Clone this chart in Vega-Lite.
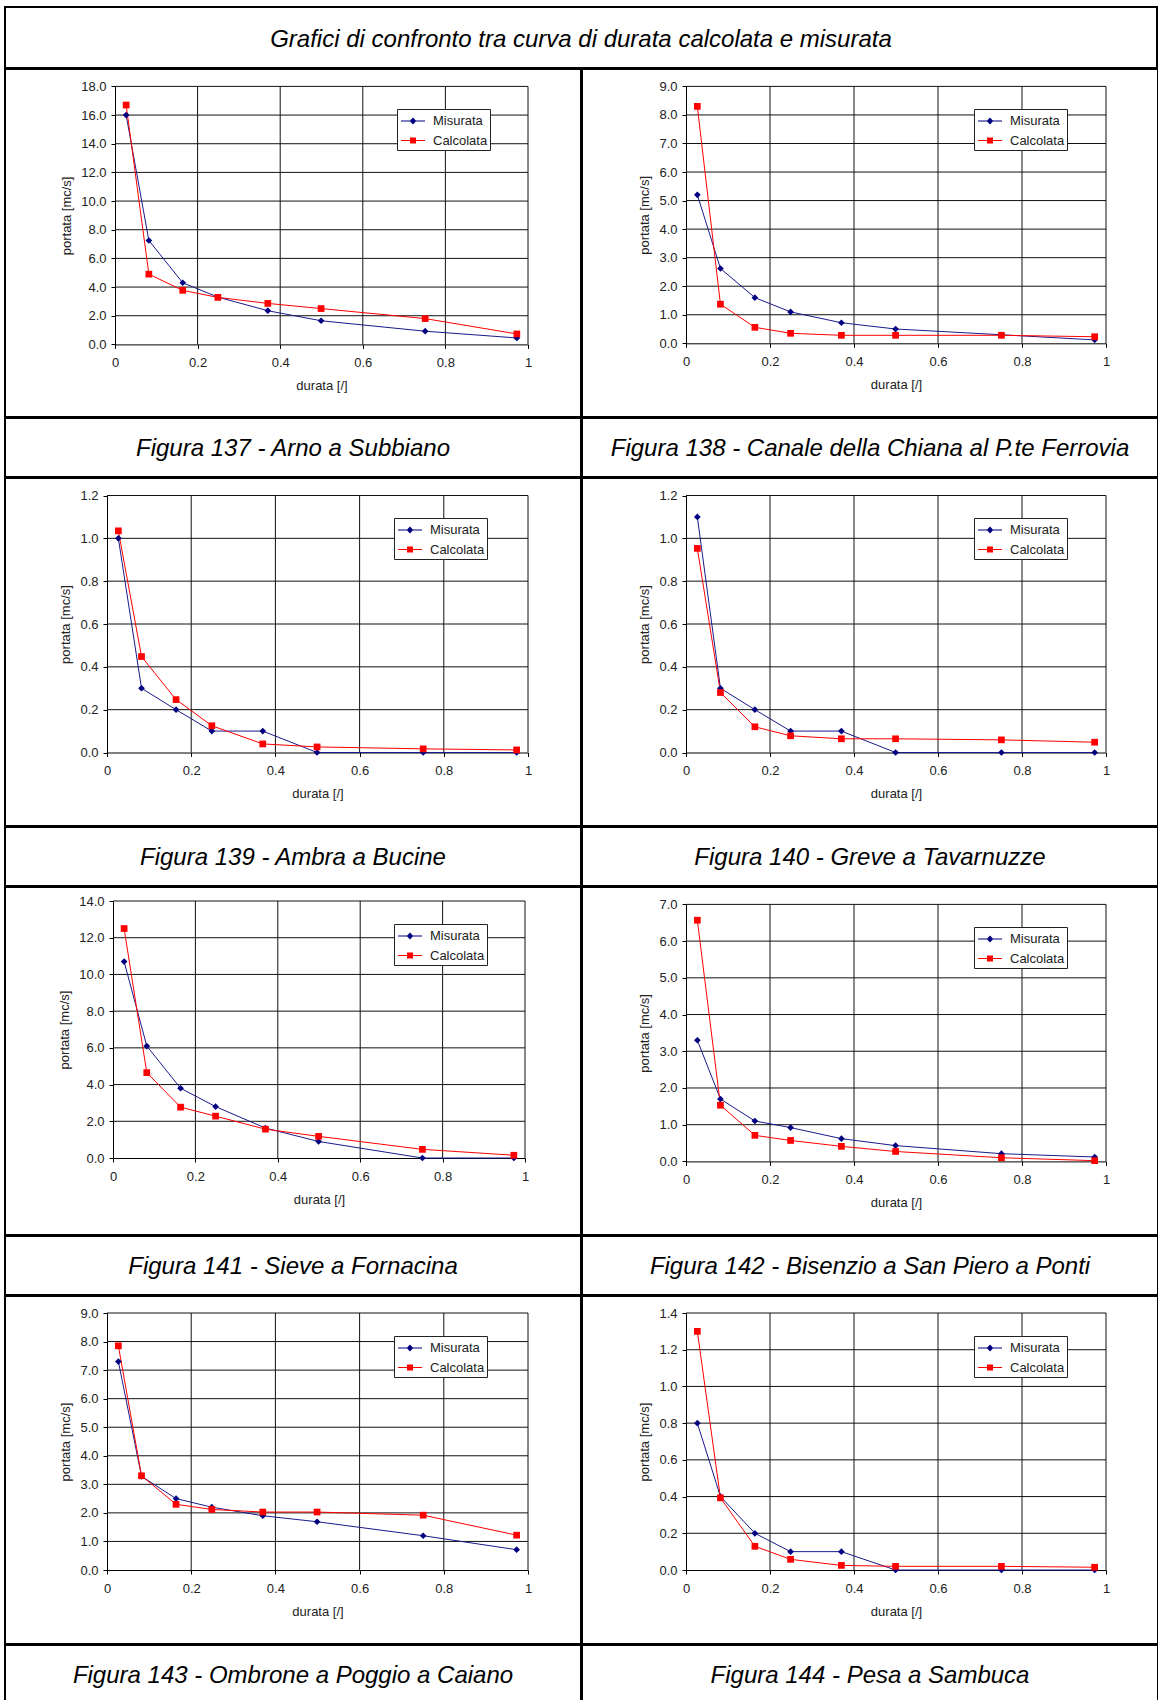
{
"$schema": "https://vega.github.io/schema/vega-lite/v6.json",
"background": "white",
"padding": {"left": 4, "top": 6, "right": 0, "bottom": 0},
"spacing": -3,
"config": {
  "view": {"stroke": "#000", "strokeWidth": 2, "fill": "white"},
  "axis": {"grid": false, "tickSize": 4, "tickColor": "#000", "tickWidth": 1, "domainColor": "#000", "domainWidth": 1, "labelFont": "Liberation Sans", "labelFontSize": 13, "labelColor": "#222", "titleFont": "Liberation Sans", "titleFontSize": 13, "titleFontWeight": "normal", "titleColor": "#222", "labelFlush": false, "labelOverlap": false},
  "axisX": {"labelPadding": 8, "titlePadding": 10},
  "axisY": {"labelPadding": 5, "titlePadding": 7},
  "legend": {"fillColor": "white", "strokeColor": "#222", "padding": 2, "symbolOffset": 4, "symbolSize": 400, "symbolStrokeWidth": 0, "labelOffset": 10, "labelFont": "Liberation Sans", "labelFontSize": 13, "labelColor": "#222", "rowPadding": 2.5}
},
"resolve": {"scale": {"color": "independent", "shape": "independent", "stroke": "independent", "x": "independent", "y": "independent"}, "legend": {"color": "independent", "shape": "independent", "stroke": "independent"}},
"vconcat": [
  {"width": 1152, "height": 61, "data": {"values": [{"t": "Grafici di confronto tra curva di durata calcolata e misurata"}]}, "mark": {"type": "text", "font": "Liberation Sans", "fontStyle": "italic", "fontSize": 24, "color": "#000", "dy": 2}, "encoding": {"x": {"datum": 0.5, "type": "quantitative", "scale": {"domain": [0, 1]}, "axis": null}, "y": {"datum": 0.5, "type": "quantitative", "scale": {"domain": [0, 1]}, "axis": null}, "text": {"field": "t", "type": "nominal"}}},
  {"hconcat": [
    {"width": 576, "height": 348,
     "data": {"values": [
       {"d": 0.027, "q": 16.0, "s": "Misurata"}, {"d": 0.082, "q": 7.25, "s": "Misurata"}, {"d": 0.164, "q": 4.3, "s": "Misurata"}, {"d": 0.249, "q": 3.3, "s": "Misurata"}, {"d": 0.37, "q": 2.35, "s": "Misurata"}, {"d": 0.499, "q": 1.65, "s": "Misurata"}, {"d": 0.751, "q": 0.92, "s": "Misurata"}, {"d": 0.973, "q": 0.45, "s": "Misurata"},
       {"d": 0.027, "q": 16.7, "s": "Calcolata"}, {"d": 0.082, "q": 4.9, "s": "Calcolata"}, {"d": 0.164, "q": 3.77, "s": "Calcolata"}, {"d": 0.249, "q": 3.28, "s": "Calcolata"}, {"d": 0.37, "q": 2.86, "s": "Calcolata"}, {"d": 0.499, "q": 2.5, "s": "Calcolata"}, {"d": 0.751, "q": 1.8, "s": "Calcolata"}, {"d": 0.973, "q": 0.73, "s": "Calcolata"}
     ]},
     "layer": [
       {"data": {"values": [{"v": 0.2}, {"v": 0.4}, {"v": 0.6}, {"v": 0.8}, {"v": 1}]}, "mark": {"type": "rule", "color": "#111", "strokeWidth": 1},
        "encoding": {"x": {"field": "v", "type": "quantitative", "scale": {"domain": [0, 1], "range": [110, 523], "nice": false, "zero": false}, "axis": {"values": [0, 0.2, 0.4, 0.6, 0.8, 1], "labelExpr": "'' + datum.value", "title": "durata [/]", "offset": -72.6}}, "y": {"datum": 0, "type": "quantitative", "scale": {"domain": [0, 18], "range": [275.4, 17.4], "nice": false, "zero": false}, "axis": {"values": [0, 2, 4, 6, 8, 10, 12, 14, 16, 18], "format": ".1f", "title": "portata [mc/s]", "offset": -110}}, "y2": {"datum": 18}}},
       {"data": {"values": [{"v": 2}, {"v": 4}, {"v": 6}, {"v": 8}, {"v": 10}, {"v": 12}, {"v": 14}, {"v": 16}, {"v": 18}]}, "mark": {"type": "rule", "color": "#111", "strokeWidth": 1},
        "encoding": {"y": {"field": "v", "type": "quantitative", "scale": {"domain": [0, 18], "range": [275.4, 17.4], "nice": false, "zero": false}, "axis": {"values": [0, 2, 4, 6, 8, 10, 12, 14, 16, 18], "format": ".1f", "title": "portata [mc/s]", "offset": -110}}, "x": {"datum": 0, "type": "quantitative", "scale": {"domain": [0, 1], "range": [110, 523], "nice": false, "zero": false}, "axis": {"values": [0, 0.2, 0.4, 0.6, 0.8, 1], "labelExpr": "'' + datum.value", "title": "durata [/]", "offset": -72.6}}, "x2": {"datum": 1}}},
       {"mark": {"type": "line", "strokeWidth": 1},
        "encoding": {"x": {"field": "d", "type": "quantitative", "scale": {"domain": [0, 1], "range": [110, 523], "nice": false, "zero": false}, "axis": {"values": [0, 0.2, 0.4, 0.6, 0.8, 1], "labelExpr": "'' + datum.value", "title": "durata [/]", "offset": -72.6}},
                     "y": {"field": "q", "type": "quantitative", "scale": {"domain": [0, 18], "range": [275.4, 17.4], "nice": false, "zero": false}, "axis": {"values": [0, 2, 4, 6, 8, 10, 12, 14, 16, 18], "format": ".1f", "title": "portata [mc/s]", "offset": -110}},
                     "stroke": {"field": "s", "type": "nominal", "scale": {"domain": ["Calcolata", "Misurata"], "range": ["#ff0000", "#1a1a8c"]}, "legend": null}}},
       {"transform": [{"filter": "datum.s === 'Misurata'"}], "mark": {"type": "point", "filled": true, "opacity": 1, "size": 45, "strokeWidth": 0, "shape": "diamond", "color": "#000080"},
        "encoding": {"x": {"field": "d", "type": "quantitative", "scale": {"domain": [0, 1], "range": [110, 523], "nice": false, "zero": false}, "axis": {"values": [0, 0.2, 0.4, 0.6, 0.8, 1], "labelExpr": "'' + datum.value", "title": "durata [/]", "offset": -72.6}},
                     "y": {"field": "q", "type": "quantitative", "scale": {"domain": [0, 18], "range": [275.4, 17.4], "nice": false, "zero": false}, "axis": {"values": [0, 2, 4, 6, 8, 10, 12, 14, 16, 18], "format": ".1f", "title": "portata [mc/s]", "offset": -110}}}},
       {"transform": [{"filter": "datum.s === 'Calcolata'"}], "mark": {"type": "point", "filled": true, "opacity": 1, "size": 45, "strokeWidth": 0, "shape": "square", "color": "#ff0000"},
        "encoding": {"x": {"field": "d", "type": "quantitative", "scale": {"domain": [0, 1], "range": [110, 523], "nice": false, "zero": false}, "axis": {"values": [0, 0.2, 0.4, 0.6, 0.8, 1], "labelExpr": "'' + datum.value", "title": "durata [/]", "offset": -72.6}},
                     "y": {"field": "q", "type": "quantitative", "scale": {"domain": [0, 18], "range": [275.4, 17.4], "nice": false, "zero": false}, "axis": {"values": [0, 2, 4, 6, 8, 10, 12, 14, 16, 18], "format": ".1f", "title": "portata [mc/s]", "offset": -110}}}},
       {"transform": [{"filter": "false"}], "mark": {"type": "point", "filled": true, "opacity": 1},
        "encoding": {"color": {"field": "s", "type": "nominal", "scale": {"domain": ["Misurata", "Calcolata"], "range": ["#000080", "#ff0000"]}, "legend": {"title": null, "orient": "none", "legendX": 392, "legendY": 40}},
                     "shape": {"field": "s", "type": "nominal", "scale": {"domain": ["Misurata", "Calcolata"], "range": ["M-1.2,-0.05H1.2V0.05H-1.2Z M0,-0.36L0.33,0L0,0.36L-0.33,0Z", "M-1.2,-0.05H1.2V0.05H-1.2Z M-0.3,-0.3H0.3V0.3H-0.3Z"]}, "legend": {"title": null, "orient": "none", "legendX": 392, "legendY": 40}}}}
     ]},
    {"width": 576, "height": 348,
     "data": {"values": [
       {"d": 0.027, "q": 5.2, "s": "Misurata"}, {"d": 0.082, "q": 2.62, "s": "Misurata"}, {"d": 0.164, "q": 1.6, "s": "Misurata"}, {"d": 0.249, "q": 1.1, "s": "Misurata"}, {"d": 0.37, "q": 0.72, "s": "Misurata"}, {"d": 0.499, "q": 0.5, "s": "Misurata"}, {"d": 0.751, "q": 0.3, "s": "Misurata"}, {"d": 0.973, "q": 0.12, "s": "Misurata"},
       {"d": 0.027, "q": 8.3, "s": "Calcolata"}, {"d": 0.082, "q": 1.37, "s": "Calcolata"}, {"d": 0.164, "q": 0.56, "s": "Calcolata"}, {"d": 0.249, "q": 0.35, "s": "Calcolata"}, {"d": 0.37, "q": 0.28, "s": "Calcolata"}, {"d": 0.499, "q": 0.28, "s": "Calcolata"}, {"d": 0.751, "q": 0.28, "s": "Calcolata"}, {"d": 0.973, "q": 0.23, "s": "Calcolata"}
     ]},
     "layer": [
       {"data": {"values": [{"v": 0.2}, {"v": 0.4}, {"v": 0.6}, {"v": 0.8}, {"v": 1}]}, "mark": {"type": "rule", "color": "#111", "strokeWidth": 1},
        "encoding": {"x": {"field": "v", "type": "quantitative", "scale": {"domain": [0, 1], "range": [104, 524], "nice": false, "zero": false}, "axis": {"values": [0, 0.2, 0.4, 0.6, 0.8, 1], "labelExpr": "'' + datum.value", "title": "durata [/]", "offset": -73.7}}, "y": {"datum": 0, "type": "quantitative", "scale": {"domain": [0, 9], "range": [274.3, 17.4], "nice": false, "zero": false}, "axis": {"values": [0, 1, 2, 3, 4, 5, 6, 7, 8, 9], "format": ".1f", "title": "portata [mc/s]", "offset": -104}}, "y2": {"datum": 9}}},
       {"data": {"values": [{"v": 1}, {"v": 2}, {"v": 3}, {"v": 4}, {"v": 5}, {"v": 6}, {"v": 7}, {"v": 8}, {"v": 9}]}, "mark": {"type": "rule", "color": "#111", "strokeWidth": 1},
        "encoding": {"y": {"field": "v", "type": "quantitative", "scale": {"domain": [0, 9], "range": [274.3, 17.4], "nice": false, "zero": false}, "axis": {"values": [0, 1, 2, 3, 4, 5, 6, 7, 8, 9], "format": ".1f", "title": "portata [mc/s]", "offset": -104}}, "x": {"datum": 0, "type": "quantitative", "scale": {"domain": [0, 1], "range": [104, 524], "nice": false, "zero": false}, "axis": {"values": [0, 0.2, 0.4, 0.6, 0.8, 1], "labelExpr": "'' + datum.value", "title": "durata [/]", "offset": -73.7}}, "x2": {"datum": 1}}},
       {"mark": {"type": "line", "strokeWidth": 1},
        "encoding": {"x": {"field": "d", "type": "quantitative", "scale": {"domain": [0, 1], "range": [104, 524], "nice": false, "zero": false}, "axis": {"values": [0, 0.2, 0.4, 0.6, 0.8, 1], "labelExpr": "'' + datum.value", "title": "durata [/]", "offset": -73.7}},
                     "y": {"field": "q", "type": "quantitative", "scale": {"domain": [0, 9], "range": [274.3, 17.4], "nice": false, "zero": false}, "axis": {"values": [0, 1, 2, 3, 4, 5, 6, 7, 8, 9], "format": ".1f", "title": "portata [mc/s]", "offset": -104}},
                     "stroke": {"field": "s", "type": "nominal", "scale": {"domain": ["Calcolata", "Misurata"], "range": ["#ff0000", "#1a1a8c"]}, "legend": null}}},
       {"transform": [{"filter": "datum.s === 'Misurata'"}], "mark": {"type": "point", "filled": true, "opacity": 1, "size": 45, "strokeWidth": 0, "shape": "diamond", "color": "#000080"},
        "encoding": {"x": {"field": "d", "type": "quantitative", "scale": {"domain": [0, 1], "range": [104, 524], "nice": false, "zero": false}, "axis": {"values": [0, 0.2, 0.4, 0.6, 0.8, 1], "labelExpr": "'' + datum.value", "title": "durata [/]", "offset": -73.7}},
                     "y": {"field": "q", "type": "quantitative", "scale": {"domain": [0, 9], "range": [274.3, 17.4], "nice": false, "zero": false}, "axis": {"values": [0, 1, 2, 3, 4, 5, 6, 7, 8, 9], "format": ".1f", "title": "portata [mc/s]", "offset": -104}}}},
       {"transform": [{"filter": "datum.s === 'Calcolata'"}], "mark": {"type": "point", "filled": true, "opacity": 1, "size": 45, "strokeWidth": 0, "shape": "square", "color": "#ff0000"},
        "encoding": {"x": {"field": "d", "type": "quantitative", "scale": {"domain": [0, 1], "range": [104, 524], "nice": false, "zero": false}, "axis": {"values": [0, 0.2, 0.4, 0.6, 0.8, 1], "labelExpr": "'' + datum.value", "title": "durata [/]", "offset": -73.7}},
                     "y": {"field": "q", "type": "quantitative", "scale": {"domain": [0, 9], "range": [274.3, 17.4], "nice": false, "zero": false}, "axis": {"values": [0, 1, 2, 3, 4, 5, 6, 7, 8, 9], "format": ".1f", "title": "portata [mc/s]", "offset": -104}}}},
       {"transform": [{"filter": "false"}], "mark": {"type": "point", "filled": true, "opacity": 1},
        "encoding": {"color": {"field": "s", "type": "nominal", "scale": {"domain": ["Misurata", "Calcolata"], "range": ["#000080", "#ff0000"]}, "legend": {"title": null, "orient": "none", "legendX": 392, "legendY": 40}},
                     "shape": {"field": "s", "type": "nominal", "scale": {"domain": ["Misurata", "Calcolata"], "range": ["M-1.2,-0.05H1.2V0.05H-1.2Z M0,-0.36L0.33,0L0,0.36L-0.33,0Z", "M-1.2,-0.05H1.2V0.05H-1.2Z M-0.3,-0.3H0.3V0.3H-0.3Z"]}, "legend": {"title": null, "orient": "none", "legendX": 392, "legendY": 40}}}}
     ]}
  ], "spacing": -3, "resolve": {"scale": {"color": "independent", "shape": "independent", "stroke": "independent", "x": "independent", "y": "independent"}, "legend": {"color": "independent", "shape": "independent", "stroke": "independent"}}},
  {"hconcat": [
    {"width": 576, "height": 59, "data": {"values": [{"t": "Figura 137 - Arno a Subbiano"}]}, "mark": {"type": "text", "font": "Liberation Sans", "fontStyle": "italic", "fontSize": 24, "color": "#000", "dy": 1.5}, "encoding": {"x": {"datum": 0.5, "type": "quantitative", "scale": {"domain": [0, 1]}, "axis": null}, "y": {"datum": 0.5, "type": "quantitative", "scale": {"domain": [0, 1]}, "axis": null}, "text": {"field": "t", "type": "nominal"}}},
    {"width": 576, "height": 59, "data": {"values": [{"t": "Figura 138 - Canale della Chiana al P.te Ferrovia"}]}, "mark": {"type": "text", "font": "Liberation Sans", "fontStyle": "italic", "fontSize": 24, "color": "#000", "dy": 1.5}, "encoding": {"x": {"datum": 0.5, "type": "quantitative", "scale": {"domain": [0, 1]}, "axis": null}, "y": {"datum": 0.5, "type": "quantitative", "scale": {"domain": [0, 1]}, "axis": null}, "text": {"field": "t", "type": "nominal"}}}
  ], "spacing": -3, "resolve": {"scale": {"x": "independent", "y": "independent"}}},
  {"hconcat": [
    {"width": 576, "height": 348,
     "data": {"values": [
       {"d": 0.027, "q": 1.0, "s": "Misurata"}, {"d": 0.082, "q": 0.3, "s": "Misurata"}, {"d": 0.164, "q": 0.2, "s": "Misurata"}, {"d": 0.249, "q": 0.1, "s": "Misurata"}, {"d": 0.37, "q": 0.1, "s": "Misurata"}, {"d": 0.499, "q": 0.0, "s": "Misurata"}, {"d": 0.751, "q": 0.0, "s": "Misurata"}, {"d": 0.973, "q": 0.0, "s": "Misurata"},
       {"d": 0.027, "q": 1.035, "s": "Calcolata"}, {"d": 0.082, "q": 0.448, "s": "Calcolata"}, {"d": 0.164, "q": 0.247, "s": "Calcolata"}, {"d": 0.249, "q": 0.125, "s": "Calcolata"}, {"d": 0.37, "q": 0.04, "s": "Calcolata"}, {"d": 0.499, "q": 0.026, "s": "Calcolata"}, {"d": 0.751, "q": 0.017, "s": "Calcolata"}, {"d": 0.973, "q": 0.012, "s": "Calcolata"}
     ]},
     "layer": [
       {"data": {"values": [{"v": 0.2}, {"v": 0.4}, {"v": 0.6}, {"v": 0.8}, {"v": 1}]}, "mark": {"type": "rule", "color": "#111", "strokeWidth": 1},
        "encoding": {"x": {"field": "v", "type": "quantitative", "scale": {"domain": [0, 1], "range": [102, 523], "nice": false, "zero": false}, "axis": {"values": [0, 0.2, 0.4, 0.6, 0.8, 1], "labelExpr": "'' + datum.value", "title": "durata [/]", "offset": -73.5}}, "y": {"datum": 0, "type": "quantitative", "scale": {"domain": [0, 1.2], "range": [274.5, 17.5], "nice": false, "zero": false}, "axis": {"values": [0, 0.2, 0.4, 0.6, 0.8, 1.0, 1.2], "format": ".1f", "title": "portata [mc/s]", "offset": -102}}, "y2": {"datum": 1.2}}},
       {"data": {"values": [{"v": 0.2}, {"v": 0.4}, {"v": 0.6}, {"v": 0.8}, {"v": 1.0}, {"v": 1.2}]}, "mark": {"type": "rule", "color": "#111", "strokeWidth": 1},
        "encoding": {"y": {"field": "v", "type": "quantitative", "scale": {"domain": [0, 1.2], "range": [274.5, 17.5], "nice": false, "zero": false}, "axis": {"values": [0, 0.2, 0.4, 0.6, 0.8, 1.0, 1.2], "format": ".1f", "title": "portata [mc/s]", "offset": -102}}, "x": {"datum": 0, "type": "quantitative", "scale": {"domain": [0, 1], "range": [102, 523], "nice": false, "zero": false}, "axis": {"values": [0, 0.2, 0.4, 0.6, 0.8, 1], "labelExpr": "'' + datum.value", "title": "durata [/]", "offset": -73.5}}, "x2": {"datum": 1}}},
       {"mark": {"type": "line", "strokeWidth": 1},
        "encoding": {"x": {"field": "d", "type": "quantitative", "scale": {"domain": [0, 1], "range": [102, 523], "nice": false, "zero": false}, "axis": {"values": [0, 0.2, 0.4, 0.6, 0.8, 1], "labelExpr": "'' + datum.value", "title": "durata [/]", "offset": -73.5}},
                     "y": {"field": "q", "type": "quantitative", "scale": {"domain": [0, 1.2], "range": [274.5, 17.5], "nice": false, "zero": false}, "axis": {"values": [0, 0.2, 0.4, 0.6, 0.8, 1.0, 1.2], "format": ".1f", "title": "portata [mc/s]", "offset": -102}},
                     "stroke": {"field": "s", "type": "nominal", "scale": {"domain": ["Calcolata", "Misurata"], "range": ["#ff0000", "#1a1a8c"]}, "legend": null}}},
       {"transform": [{"filter": "datum.s === 'Misurata'"}], "mark": {"type": "point", "filled": true, "opacity": 1, "size": 45, "strokeWidth": 0, "shape": "diamond", "color": "#000080"},
        "encoding": {"x": {"field": "d", "type": "quantitative", "scale": {"domain": [0, 1], "range": [102, 523], "nice": false, "zero": false}, "axis": {"values": [0, 0.2, 0.4, 0.6, 0.8, 1], "labelExpr": "'' + datum.value", "title": "durata [/]", "offset": -73.5}},
                     "y": {"field": "q", "type": "quantitative", "scale": {"domain": [0, 1.2], "range": [274.5, 17.5], "nice": false, "zero": false}, "axis": {"values": [0, 0.2, 0.4, 0.6, 0.8, 1.0, 1.2], "format": ".1f", "title": "portata [mc/s]", "offset": -102}}}},
       {"transform": [{"filter": "datum.s === 'Calcolata'"}], "mark": {"type": "point", "filled": true, "opacity": 1, "size": 45, "strokeWidth": 0, "shape": "square", "color": "#ff0000"},
        "encoding": {"x": {"field": "d", "type": "quantitative", "scale": {"domain": [0, 1], "range": [102, 523], "nice": false, "zero": false}, "axis": {"values": [0, 0.2, 0.4, 0.6, 0.8, 1], "labelExpr": "'' + datum.value", "title": "durata [/]", "offset": -73.5}},
                     "y": {"field": "q", "type": "quantitative", "scale": {"domain": [0, 1.2], "range": [274.5, 17.5], "nice": false, "zero": false}, "axis": {"values": [0, 0.2, 0.4, 0.6, 0.8, 1.0, 1.2], "format": ".1f", "title": "portata [mc/s]", "offset": -102}}}},
       {"transform": [{"filter": "false"}], "mark": {"type": "point", "filled": true, "opacity": 1},
        "encoding": {"color": {"field": "s", "type": "nominal", "scale": {"domain": ["Misurata", "Calcolata"], "range": ["#000080", "#ff0000"]}, "legend": {"title": null, "orient": "none", "legendX": 389, "legendY": 40}},
                     "shape": {"field": "s", "type": "nominal", "scale": {"domain": ["Misurata", "Calcolata"], "range": ["M-1.2,-0.05H1.2V0.05H-1.2Z M0,-0.36L0.33,0L0,0.36L-0.33,0Z", "M-1.2,-0.05H1.2V0.05H-1.2Z M-0.3,-0.3H0.3V0.3H-0.3Z"]}, "legend": {"title": null, "orient": "none", "legendX": 389, "legendY": 40}}}}
     ]},
    {"width": 576, "height": 348,
     "data": {"values": [
       {"d": 0.027, "q": 1.1, "s": "Misurata"}, {"d": 0.082, "q": 0.3, "s": "Misurata"}, {"d": 0.164, "q": 0.2, "s": "Misurata"}, {"d": 0.249, "q": 0.1, "s": "Misurata"}, {"d": 0.37, "q": 0.1, "s": "Misurata"}, {"d": 0.499, "q": 0.0, "s": "Misurata"}, {"d": 0.751, "q": 0.0, "s": "Misurata"}, {"d": 0.973, "q": 0.0, "s": "Misurata"},
       {"d": 0.027, "q": 0.953, "s": "Calcolata"}, {"d": 0.082, "q": 0.28, "s": "Calcolata"}, {"d": 0.164, "q": 0.12, "s": "Calcolata"}, {"d": 0.249, "q": 0.078, "s": "Calcolata"}, {"d": 0.37, "q": 0.064, "s": "Calcolata"}, {"d": 0.499, "q": 0.064, "s": "Calcolata"}, {"d": 0.751, "q": 0.059, "s": "Calcolata"}, {"d": 0.973, "q": 0.048, "s": "Calcolata"}
     ]},
     "layer": [
       {"data": {"values": [{"v": 0.2}, {"v": 0.4}, {"v": 0.6}, {"v": 0.8}, {"v": 1}]}, "mark": {"type": "rule", "color": "#111", "strokeWidth": 1},
        "encoding": {"x": {"field": "v", "type": "quantitative", "scale": {"domain": [0, 1], "range": [104, 524], "nice": false, "zero": false}, "axis": {"values": [0, 0.2, 0.4, 0.6, 0.8, 1], "labelExpr": "'' + datum.value", "title": "durata [/]", "offset": -73.5}}, "y": {"datum": 0, "type": "quantitative", "scale": {"domain": [0, 1.2], "range": [274.5, 17.5], "nice": false, "zero": false}, "axis": {"values": [0, 0.2, 0.4, 0.6, 0.8, 1.0, 1.2], "format": ".1f", "title": "portata [mc/s]", "offset": -104}}, "y2": {"datum": 1.2}}},
       {"data": {"values": [{"v": 0.2}, {"v": 0.4}, {"v": 0.6}, {"v": 0.8}, {"v": 1.0}, {"v": 1.2}]}, "mark": {"type": "rule", "color": "#111", "strokeWidth": 1},
        "encoding": {"y": {"field": "v", "type": "quantitative", "scale": {"domain": [0, 1.2], "range": [274.5, 17.5], "nice": false, "zero": false}, "axis": {"values": [0, 0.2, 0.4, 0.6, 0.8, 1.0, 1.2], "format": ".1f", "title": "portata [mc/s]", "offset": -104}}, "x": {"datum": 0, "type": "quantitative", "scale": {"domain": [0, 1], "range": [104, 524], "nice": false, "zero": false}, "axis": {"values": [0, 0.2, 0.4, 0.6, 0.8, 1], "labelExpr": "'' + datum.value", "title": "durata [/]", "offset": -73.5}}, "x2": {"datum": 1}}},
       {"mark": {"type": "line", "strokeWidth": 1},
        "encoding": {"x": {"field": "d", "type": "quantitative", "scale": {"domain": [0, 1], "range": [104, 524], "nice": false, "zero": false}, "axis": {"values": [0, 0.2, 0.4, 0.6, 0.8, 1], "labelExpr": "'' + datum.value", "title": "durata [/]", "offset": -73.5}},
                     "y": {"field": "q", "type": "quantitative", "scale": {"domain": [0, 1.2], "range": [274.5, 17.5], "nice": false, "zero": false}, "axis": {"values": [0, 0.2, 0.4, 0.6, 0.8, 1.0, 1.2], "format": ".1f", "title": "portata [mc/s]", "offset": -104}},
                     "stroke": {"field": "s", "type": "nominal", "scale": {"domain": ["Calcolata", "Misurata"], "range": ["#ff0000", "#1a1a8c"]}, "legend": null}}},
       {"transform": [{"filter": "datum.s === 'Misurata'"}], "mark": {"type": "point", "filled": true, "opacity": 1, "size": 45, "strokeWidth": 0, "shape": "diamond", "color": "#000080"},
        "encoding": {"x": {"field": "d", "type": "quantitative", "scale": {"domain": [0, 1], "range": [104, 524], "nice": false, "zero": false}, "axis": {"values": [0, 0.2, 0.4, 0.6, 0.8, 1], "labelExpr": "'' + datum.value", "title": "durata [/]", "offset": -73.5}},
                     "y": {"field": "q", "type": "quantitative", "scale": {"domain": [0, 1.2], "range": [274.5, 17.5], "nice": false, "zero": false}, "axis": {"values": [0, 0.2, 0.4, 0.6, 0.8, 1.0, 1.2], "format": ".1f", "title": "portata [mc/s]", "offset": -104}}}},
       {"transform": [{"filter": "datum.s === 'Calcolata'"}], "mark": {"type": "point", "filled": true, "opacity": 1, "size": 45, "strokeWidth": 0, "shape": "square", "color": "#ff0000"},
        "encoding": {"x": {"field": "d", "type": "quantitative", "scale": {"domain": [0, 1], "range": [104, 524], "nice": false, "zero": false}, "axis": {"values": [0, 0.2, 0.4, 0.6, 0.8, 1], "labelExpr": "'' + datum.value", "title": "durata [/]", "offset": -73.5}},
                     "y": {"field": "q", "type": "quantitative", "scale": {"domain": [0, 1.2], "range": [274.5, 17.5], "nice": false, "zero": false}, "axis": {"values": [0, 0.2, 0.4, 0.6, 0.8, 1.0, 1.2], "format": ".1f", "title": "portata [mc/s]", "offset": -104}}}},
       {"transform": [{"filter": "false"}], "mark": {"type": "point", "filled": true, "opacity": 1},
        "encoding": {"color": {"field": "s", "type": "nominal", "scale": {"domain": ["Misurata", "Calcolata"], "range": ["#000080", "#ff0000"]}, "legend": {"title": null, "orient": "none", "legendX": 392, "legendY": 40}},
                     "shape": {"field": "s", "type": "nominal", "scale": {"domain": ["Misurata", "Calcolata"], "range": ["M-1.2,-0.05H1.2V0.05H-1.2Z M0,-0.36L0.33,0L0,0.36L-0.33,0Z", "M-1.2,-0.05H1.2V0.05H-1.2Z M-0.3,-0.3H0.3V0.3H-0.3Z"]}, "legend": {"title": null, "orient": "none", "legendX": 392, "legendY": 40}}}}
     ]}
  ], "spacing": -3, "resolve": {"scale": {"color": "independent", "shape": "independent", "stroke": "independent", "x": "independent", "y": "independent"}, "legend": {"color": "independent", "shape": "independent", "stroke": "independent"}}},
  {"hconcat": [
    {"width": 576, "height": 59, "data": {"values": [{"t": "Figura 139 - Ambra a Bucine"}]}, "mark": {"type": "text", "font": "Liberation Sans", "fontStyle": "italic", "fontSize": 24, "color": "#000", "dy": 1.5}, "encoding": {"x": {"datum": 0.5, "type": "quantitative", "scale": {"domain": [0, 1]}, "axis": null}, "y": {"datum": 0.5, "type": "quantitative", "scale": {"domain": [0, 1]}, "axis": null}, "text": {"field": "t", "type": "nominal"}}},
    {"width": 576, "height": 59, "data": {"values": [{"t": "Figura 140 - Greve a Tavarnuzze"}]}, "mark": {"type": "text", "font": "Liberation Sans", "fontStyle": "italic", "fontSize": 24, "color": "#000", "dy": 1.5}, "encoding": {"x": {"datum": 0.5, "type": "quantitative", "scale": {"domain": [0, 1]}, "axis": null}, "y": {"datum": 0.5, "type": "quantitative", "scale": {"domain": [0, 1]}, "axis": null}, "text": {"field": "t", "type": "nominal"}}}
  ], "spacing": -3, "resolve": {"scale": {"x": "independent", "y": "independent"}}},
  {"hconcat": [
    {"width": 576, "height": 348,
     "data": {"values": [
       {"d": 0.027, "q": 10.7, "s": "Misurata"}, {"d": 0.082, "q": 6.1, "s": "Misurata"}, {"d": 0.164, "q": 3.8, "s": "Misurata"}, {"d": 0.249, "q": 2.8, "s": "Misurata"}, {"d": 0.37, "q": 1.63, "s": "Misurata"}, {"d": 0.499, "q": 0.9, "s": "Misurata"}, {"d": 0.751, "q": 0.0, "s": "Misurata"}, {"d": 0.973, "q": 0.0, "s": "Misurata"},
       {"d": 0.027, "q": 12.5, "s": "Calcolata"}, {"d": 0.082, "q": 4.65, "s": "Calcolata"}, {"d": 0.164, "q": 2.77, "s": "Calcolata"}, {"d": 0.249, "q": 2.28, "s": "Calcolata"}, {"d": 0.37, "q": 1.57, "s": "Calcolata"}, {"d": 0.499, "q": 1.18, "s": "Calcolata"}, {"d": 0.751, "q": 0.47, "s": "Calcolata"}, {"d": 0.973, "q": 0.15, "s": "Calcolata"}
     ]},
     "layer": [
       {"data": {"values": [{"v": 0.2}, {"v": 0.4}, {"v": 0.6}, {"v": 0.8}, {"v": 1}]}, "mark": {"type": "rule", "color": "#111", "strokeWidth": 1},
        "encoding": {"x": {"field": "v", "type": "quantitative", "scale": {"domain": [0, 1], "range": [108, 520], "nice": false, "zero": false}, "axis": {"values": [0, 0.2, 0.4, 0.6, 0.8, 1], "labelExpr": "'' + datum.value", "title": "durata [/]", "offset": -77}}, "y": {"datum": 0, "type": "quantitative", "scale": {"domain": [0, 14], "range": [271, 14], "nice": false, "zero": false}, "axis": {"values": [0, 2, 4, 6, 8, 10, 12, 14], "format": ".1f", "title": "portata [mc/s]", "offset": -108}}, "y2": {"datum": 14}}},
       {"data": {"values": [{"v": 2}, {"v": 4}, {"v": 6}, {"v": 8}, {"v": 10}, {"v": 12}, {"v": 14}]}, "mark": {"type": "rule", "color": "#111", "strokeWidth": 1},
        "encoding": {"y": {"field": "v", "type": "quantitative", "scale": {"domain": [0, 14], "range": [271, 14], "nice": false, "zero": false}, "axis": {"values": [0, 2, 4, 6, 8, 10, 12, 14], "format": ".1f", "title": "portata [mc/s]", "offset": -108}}, "x": {"datum": 0, "type": "quantitative", "scale": {"domain": [0, 1], "range": [108, 520], "nice": false, "zero": false}, "axis": {"values": [0, 0.2, 0.4, 0.6, 0.8, 1], "labelExpr": "'' + datum.value", "title": "durata [/]", "offset": -77}}, "x2": {"datum": 1}}},
       {"mark": {"type": "line", "strokeWidth": 1},
        "encoding": {"x": {"field": "d", "type": "quantitative", "scale": {"domain": [0, 1], "range": [108, 520], "nice": false, "zero": false}, "axis": {"values": [0, 0.2, 0.4, 0.6, 0.8, 1], "labelExpr": "'' + datum.value", "title": "durata [/]", "offset": -77}},
                     "y": {"field": "q", "type": "quantitative", "scale": {"domain": [0, 14], "range": [271, 14], "nice": false, "zero": false}, "axis": {"values": [0, 2, 4, 6, 8, 10, 12, 14], "format": ".1f", "title": "portata [mc/s]", "offset": -108}},
                     "stroke": {"field": "s", "type": "nominal", "scale": {"domain": ["Calcolata", "Misurata"], "range": ["#ff0000", "#1a1a8c"]}, "legend": null}}},
       {"transform": [{"filter": "datum.s === 'Misurata'"}], "mark": {"type": "point", "filled": true, "opacity": 1, "size": 45, "strokeWidth": 0, "shape": "diamond", "color": "#000080"},
        "encoding": {"x": {"field": "d", "type": "quantitative", "scale": {"domain": [0, 1], "range": [108, 520], "nice": false, "zero": false}, "axis": {"values": [0, 0.2, 0.4, 0.6, 0.8, 1], "labelExpr": "'' + datum.value", "title": "durata [/]", "offset": -77}},
                     "y": {"field": "q", "type": "quantitative", "scale": {"domain": [0, 14], "range": [271, 14], "nice": false, "zero": false}, "axis": {"values": [0, 2, 4, 6, 8, 10, 12, 14], "format": ".1f", "title": "portata [mc/s]", "offset": -108}}}},
       {"transform": [{"filter": "datum.s === 'Calcolata'"}], "mark": {"type": "point", "filled": true, "opacity": 1, "size": 45, "strokeWidth": 0, "shape": "square", "color": "#ff0000"},
        "encoding": {"x": {"field": "d", "type": "quantitative", "scale": {"domain": [0, 1], "range": [108, 520], "nice": false, "zero": false}, "axis": {"values": [0, 0.2, 0.4, 0.6, 0.8, 1], "labelExpr": "'' + datum.value", "title": "durata [/]", "offset": -77}},
                     "y": {"field": "q", "type": "quantitative", "scale": {"domain": [0, 14], "range": [271, 14], "nice": false, "zero": false}, "axis": {"values": [0, 2, 4, 6, 8, 10, 12, 14], "format": ".1f", "title": "portata [mc/s]", "offset": -108}}}},
       {"transform": [{"filter": "false"}], "mark": {"type": "point", "filled": true, "opacity": 1},
        "encoding": {"color": {"field": "s", "type": "nominal", "scale": {"domain": ["Misurata", "Calcolata"], "range": ["#000080", "#ff0000"]}, "legend": {"title": null, "orient": "none", "legendX": 389, "legendY": 37}},
                     "shape": {"field": "s", "type": "nominal", "scale": {"domain": ["Misurata", "Calcolata"], "range": ["M-1.2,-0.05H1.2V0.05H-1.2Z M0,-0.36L0.33,0L0,0.36L-0.33,0Z", "M-1.2,-0.05H1.2V0.05H-1.2Z M-0.3,-0.3H0.3V0.3H-0.3Z"]}, "legend": {"title": null, "orient": "none", "legendX": 389, "legendY": 37}}}}
     ]},
    {"width": 576, "height": 348,
     "data": {"values": [
       {"d": 0.027, "q": 3.3, "s": "Misurata"}, {"d": 0.082, "q": 1.7, "s": "Misurata"}, {"d": 0.164, "q": 1.1, "s": "Misurata"}, {"d": 0.249, "q": 0.92, "s": "Misurata"}, {"d": 0.37, "q": 0.62, "s": "Misurata"}, {"d": 0.499, "q": 0.43, "s": "Misurata"}, {"d": 0.751, "q": 0.21, "s": "Misurata"}, {"d": 0.973, "q": 0.12, "s": "Misurata"},
       {"d": 0.027, "q": 6.57, "s": "Calcolata"}, {"d": 0.082, "q": 1.53, "s": "Calcolata"}, {"d": 0.164, "q": 0.71, "s": "Calcolata"}, {"d": 0.249, "q": 0.57, "s": "Calcolata"}, {"d": 0.37, "q": 0.41, "s": "Calcolata"}, {"d": 0.499, "q": 0.27, "s": "Calcolata"}, {"d": 0.751, "q": 0.1, "s": "Calcolata"}, {"d": 0.973, "q": 0.02, "s": "Calcolata"}
     ]},
     "layer": [
       {"data": {"values": [{"v": 0.2}, {"v": 0.4}, {"v": 0.6}, {"v": 0.8}, {"v": 1}]}, "mark": {"type": "rule", "color": "#111", "strokeWidth": 1},
        "encoding": {"x": {"field": "v", "type": "quantitative", "scale": {"domain": [0, 1], "range": [104, 524], "nice": false, "zero": false}, "axis": {"values": [0, 0.2, 0.4, 0.6, 0.8, 1], "labelExpr": "'' + datum.value", "title": "durata [/]", "offset": -73.6}}, "y": {"datum": 0, "type": "quantitative", "scale": {"domain": [0, 7], "range": [274.4, 17.4], "nice": false, "zero": false}, "axis": {"values": [0, 1, 2, 3, 4, 5, 6, 7], "format": ".1f", "title": "portata [mc/s]", "offset": -104}}, "y2": {"datum": 7}}},
       {"data": {"values": [{"v": 1}, {"v": 2}, {"v": 3}, {"v": 4}, {"v": 5}, {"v": 6}, {"v": 7}]}, "mark": {"type": "rule", "color": "#111", "strokeWidth": 1},
        "encoding": {"y": {"field": "v", "type": "quantitative", "scale": {"domain": [0, 7], "range": [274.4, 17.4], "nice": false, "zero": false}, "axis": {"values": [0, 1, 2, 3, 4, 5, 6, 7], "format": ".1f", "title": "portata [mc/s]", "offset": -104}}, "x": {"datum": 0, "type": "quantitative", "scale": {"domain": [0, 1], "range": [104, 524], "nice": false, "zero": false}, "axis": {"values": [0, 0.2, 0.4, 0.6, 0.8, 1], "labelExpr": "'' + datum.value", "title": "durata [/]", "offset": -73.6}}, "x2": {"datum": 1}}},
       {"mark": {"type": "line", "strokeWidth": 1},
        "encoding": {"x": {"field": "d", "type": "quantitative", "scale": {"domain": [0, 1], "range": [104, 524], "nice": false, "zero": false}, "axis": {"values": [0, 0.2, 0.4, 0.6, 0.8, 1], "labelExpr": "'' + datum.value", "title": "durata [/]", "offset": -73.6}},
                     "y": {"field": "q", "type": "quantitative", "scale": {"domain": [0, 7], "range": [274.4, 17.4], "nice": false, "zero": false}, "axis": {"values": [0, 1, 2, 3, 4, 5, 6, 7], "format": ".1f", "title": "portata [mc/s]", "offset": -104}},
                     "stroke": {"field": "s", "type": "nominal", "scale": {"domain": ["Calcolata", "Misurata"], "range": ["#ff0000", "#1a1a8c"]}, "legend": null}}},
       {"transform": [{"filter": "datum.s === 'Misurata'"}], "mark": {"type": "point", "filled": true, "opacity": 1, "size": 45, "strokeWidth": 0, "shape": "diamond", "color": "#000080"},
        "encoding": {"x": {"field": "d", "type": "quantitative", "scale": {"domain": [0, 1], "range": [104, 524], "nice": false, "zero": false}, "axis": {"values": [0, 0.2, 0.4, 0.6, 0.8, 1], "labelExpr": "'' + datum.value", "title": "durata [/]", "offset": -73.6}},
                     "y": {"field": "q", "type": "quantitative", "scale": {"domain": [0, 7], "range": [274.4, 17.4], "nice": false, "zero": false}, "axis": {"values": [0, 1, 2, 3, 4, 5, 6, 7], "format": ".1f", "title": "portata [mc/s]", "offset": -104}}}},
       {"transform": [{"filter": "datum.s === 'Calcolata'"}], "mark": {"type": "point", "filled": true, "opacity": 1, "size": 45, "strokeWidth": 0, "shape": "square", "color": "#ff0000"},
        "encoding": {"x": {"field": "d", "type": "quantitative", "scale": {"domain": [0, 1], "range": [104, 524], "nice": false, "zero": false}, "axis": {"values": [0, 0.2, 0.4, 0.6, 0.8, 1], "labelExpr": "'' + datum.value", "title": "durata [/]", "offset": -73.6}},
                     "y": {"field": "q", "type": "quantitative", "scale": {"domain": [0, 7], "range": [274.4, 17.4], "nice": false, "zero": false}, "axis": {"values": [0, 1, 2, 3, 4, 5, 6, 7], "format": ".1f", "title": "portata [mc/s]", "offset": -104}}}},
       {"transform": [{"filter": "false"}], "mark": {"type": "point", "filled": true, "opacity": 1},
        "encoding": {"color": {"field": "s", "type": "nominal", "scale": {"domain": ["Misurata", "Calcolata"], "range": ["#000080", "#ff0000"]}, "legend": {"title": null, "orient": "none", "legendX": 392, "legendY": 40}},
                     "shape": {"field": "s", "type": "nominal", "scale": {"domain": ["Misurata", "Calcolata"], "range": ["M-1.2,-0.05H1.2V0.05H-1.2Z M0,-0.36L0.33,0L0,0.36L-0.33,0Z", "M-1.2,-0.05H1.2V0.05H-1.2Z M-0.3,-0.3H0.3V0.3H-0.3Z"]}, "legend": {"title": null, "orient": "none", "legendX": 392, "legendY": 40}}}}
     ]}
  ], "spacing": -3, "resolve": {"scale": {"color": "independent", "shape": "independent", "stroke": "independent", "x": "independent", "y": "independent"}, "legend": {"color": "independent", "shape": "independent", "stroke": "independent"}}},
  {"hconcat": [
    {"width": 576, "height": 59, "data": {"values": [{"t": "Figura 141 - Sieve a Fornacina"}]}, "mark": {"type": "text", "font": "Liberation Sans", "fontStyle": "italic", "fontSize": 24, "color": "#000", "dy": 1.5}, "encoding": {"x": {"datum": 0.5, "type": "quantitative", "scale": {"domain": [0, 1]}, "axis": null}, "y": {"datum": 0.5, "type": "quantitative", "scale": {"domain": [0, 1]}, "axis": null}, "text": {"field": "t", "type": "nominal"}}},
    {"width": 576, "height": 59, "data": {"values": [{"t": "Figura 142 - Bisenzio a San Piero a Ponti"}]}, "mark": {"type": "text", "font": "Liberation Sans", "fontStyle": "italic", "fontSize": 24, "color": "#000", "dy": 1.5}, "encoding": {"x": {"datum": 0.5, "type": "quantitative", "scale": {"domain": [0, 1]}, "axis": null}, "y": {"datum": 0.5, "type": "quantitative", "scale": {"domain": [0, 1]}, "axis": null}, "text": {"field": "t", "type": "nominal"}}}
  ], "spacing": -3, "resolve": {"scale": {"x": "independent", "y": "independent"}}},
  {"hconcat": [
    {"width": 576, "height": 348,
     "data": {"values": [
       {"d": 0.027, "q": 7.3, "s": "Misurata"}, {"d": 0.082, "q": 3.28, "s": "Misurata"}, {"d": 0.164, "q": 2.5, "s": "Misurata"}, {"d": 0.249, "q": 2.2, "s": "Misurata"}, {"d": 0.37, "q": 1.9, "s": "Misurata"}, {"d": 0.499, "q": 1.69, "s": "Misurata"}, {"d": 0.751, "q": 1.2, "s": "Misurata"}, {"d": 0.973, "q": 0.71, "s": "Misurata"},
       {"d": 0.027, "q": 7.85, "s": "Calcolata"}, {"d": 0.082, "q": 3.3, "s": "Calcolata"}, {"d": 0.164, "q": 2.3, "s": "Calcolata"}, {"d": 0.249, "q": 2.12, "s": "Calcolata"}, {"d": 0.37, "q": 2.03, "s": "Calcolata"}, {"d": 0.499, "q": 2.03, "s": "Calcolata"}, {"d": 0.751, "q": 1.92, "s": "Calcolata"}, {"d": 0.973, "q": 1.22, "s": "Calcolata"}
     ]},
     "layer": [
       {"data": {"values": [{"v": 0.2}, {"v": 0.4}, {"v": 0.6}, {"v": 0.8}, {"v": 1}]}, "mark": {"type": "rule", "color": "#111", "strokeWidth": 1},
        "encoding": {"x": {"field": "v", "type": "quantitative", "scale": {"domain": [0, 1], "range": [102, 523], "nice": false, "zero": false}, "axis": {"values": [0, 0.2, 0.4, 0.6, 0.8, 1], "labelExpr": "'' + datum.value", "title": "durata [/]", "offset": -74}}, "y": {"datum": 0, "type": "quantitative", "scale": {"domain": [0, 9], "range": [274, 17], "nice": false, "zero": false}, "axis": {"values": [0, 1, 2, 3, 4, 5, 6, 7, 8, 9], "format": ".1f", "title": "portata [mc/s]", "offset": -102}}, "y2": {"datum": 9}}},
       {"data": {"values": [{"v": 1}, {"v": 2}, {"v": 3}, {"v": 4}, {"v": 5}, {"v": 6}, {"v": 7}, {"v": 8}, {"v": 9}]}, "mark": {"type": "rule", "color": "#111", "strokeWidth": 1},
        "encoding": {"y": {"field": "v", "type": "quantitative", "scale": {"domain": [0, 9], "range": [274, 17], "nice": false, "zero": false}, "axis": {"values": [0, 1, 2, 3, 4, 5, 6, 7, 8, 9], "format": ".1f", "title": "portata [mc/s]", "offset": -102}}, "x": {"datum": 0, "type": "quantitative", "scale": {"domain": [0, 1], "range": [102, 523], "nice": false, "zero": false}, "axis": {"values": [0, 0.2, 0.4, 0.6, 0.8, 1], "labelExpr": "'' + datum.value", "title": "durata [/]", "offset": -74}}, "x2": {"datum": 1}}},
       {"mark": {"type": "line", "strokeWidth": 1},
        "encoding": {"x": {"field": "d", "type": "quantitative", "scale": {"domain": [0, 1], "range": [102, 523], "nice": false, "zero": false}, "axis": {"values": [0, 0.2, 0.4, 0.6, 0.8, 1], "labelExpr": "'' + datum.value", "title": "durata [/]", "offset": -74}},
                     "y": {"field": "q", "type": "quantitative", "scale": {"domain": [0, 9], "range": [274, 17], "nice": false, "zero": false}, "axis": {"values": [0, 1, 2, 3, 4, 5, 6, 7, 8, 9], "format": ".1f", "title": "portata [mc/s]", "offset": -102}},
                     "stroke": {"field": "s", "type": "nominal", "scale": {"domain": ["Calcolata", "Misurata"], "range": ["#ff0000", "#1a1a8c"]}, "legend": null}}},
       {"transform": [{"filter": "datum.s === 'Misurata'"}], "mark": {"type": "point", "filled": true, "opacity": 1, "size": 45, "strokeWidth": 0, "shape": "diamond", "color": "#000080"},
        "encoding": {"x": {"field": "d", "type": "quantitative", "scale": {"domain": [0, 1], "range": [102, 523], "nice": false, "zero": false}, "axis": {"values": [0, 0.2, 0.4, 0.6, 0.8, 1], "labelExpr": "'' + datum.value", "title": "durata [/]", "offset": -74}},
                     "y": {"field": "q", "type": "quantitative", "scale": {"domain": [0, 9], "range": [274, 17], "nice": false, "zero": false}, "axis": {"values": [0, 1, 2, 3, 4, 5, 6, 7, 8, 9], "format": ".1f", "title": "portata [mc/s]", "offset": -102}}}},
       {"transform": [{"filter": "datum.s === 'Calcolata'"}], "mark": {"type": "point", "filled": true, "opacity": 1, "size": 45, "strokeWidth": 0, "shape": "square", "color": "#ff0000"},
        "encoding": {"x": {"field": "d", "type": "quantitative", "scale": {"domain": [0, 1], "range": [102, 523], "nice": false, "zero": false}, "axis": {"values": [0, 0.2, 0.4, 0.6, 0.8, 1], "labelExpr": "'' + datum.value", "title": "durata [/]", "offset": -74}},
                     "y": {"field": "q", "type": "quantitative", "scale": {"domain": [0, 9], "range": [274, 17], "nice": false, "zero": false}, "axis": {"values": [0, 1, 2, 3, 4, 5, 6, 7, 8, 9], "format": ".1f", "title": "portata [mc/s]", "offset": -102}}}},
       {"transform": [{"filter": "false"}], "mark": {"type": "point", "filled": true, "opacity": 1},
        "encoding": {"color": {"field": "s", "type": "nominal", "scale": {"domain": ["Misurata", "Calcolata"], "range": ["#000080", "#ff0000"]}, "legend": {"title": null, "orient": "none", "legendX": 389, "legendY": 40}},
                     "shape": {"field": "s", "type": "nominal", "scale": {"domain": ["Misurata", "Calcolata"], "range": ["M-1.2,-0.05H1.2V0.05H-1.2Z M0,-0.36L0.33,0L0,0.36L-0.33,0Z", "M-1.2,-0.05H1.2V0.05H-1.2Z M-0.3,-0.3H0.3V0.3H-0.3Z"]}, "legend": {"title": null, "orient": "none", "legendX": 389, "legendY": 40}}}}
     ]},
    {"width": 576, "height": 348,
     "data": {"values": [
       {"d": 0.027, "q": 0.8, "s": "Misurata"}, {"d": 0.082, "q": 0.4, "s": "Misurata"}, {"d": 0.164, "q": 0.2, "s": "Misurata"}, {"d": 0.249, "q": 0.1, "s": "Misurata"}, {"d": 0.37, "q": 0.1, "s": "Misurata"}, {"d": 0.499, "q": 0.0, "s": "Misurata"}, {"d": 0.751, "q": 0.0, "s": "Misurata"}, {"d": 0.973, "q": 0.0, "s": "Misurata"},
       {"d": 0.027, "q": 1.3, "s": "Calcolata"}, {"d": 0.082, "q": 0.393, "s": "Calcolata"}, {"d": 0.164, "q": 0.129, "s": "Calcolata"}, {"d": 0.249, "q": 0.058, "s": "Calcolata"}, {"d": 0.37, "q": 0.025, "s": "Calcolata"}, {"d": 0.499, "q": 0.02, "s": "Calcolata"}, {"d": 0.751, "q": 0.02, "s": "Calcolata"}, {"d": 0.973, "q": 0.015, "s": "Calcolata"}
     ]},
     "layer": [
       {"data": {"values": [{"v": 0.2}, {"v": 0.4}, {"v": 0.6}, {"v": 0.8}, {"v": 1}]}, "mark": {"type": "rule", "color": "#111", "strokeWidth": 1},
        "encoding": {"x": {"field": "v", "type": "quantitative", "scale": {"domain": [0, 1], "range": [104, 524], "nice": false, "zero": false}, "axis": {"values": [0, 0.2, 0.4, 0.6, 0.8, 1], "labelExpr": "'' + datum.value", "title": "durata [/]", "offset": -74}}, "y": {"datum": 0, "type": "quantitative", "scale": {"domain": [0, 1.4], "range": [274, 17], "nice": false, "zero": false}, "axis": {"values": [0, 0.2, 0.4, 0.6, 0.8, 1.0, 1.2, 1.4], "format": ".1f", "title": "portata [mc/s]", "offset": -104}}, "y2": {"datum": 1.4}}},
       {"data": {"values": [{"v": 0.2}, {"v": 0.4}, {"v": 0.6}, {"v": 0.8}, {"v": 1.0}, {"v": 1.2}, {"v": 1.4}]}, "mark": {"type": "rule", "color": "#111", "strokeWidth": 1},
        "encoding": {"y": {"field": "v", "type": "quantitative", "scale": {"domain": [0, 1.4], "range": [274, 17], "nice": false, "zero": false}, "axis": {"values": [0, 0.2, 0.4, 0.6, 0.8, 1.0, 1.2, 1.4], "format": ".1f", "title": "portata [mc/s]", "offset": -104}}, "x": {"datum": 0, "type": "quantitative", "scale": {"domain": [0, 1], "range": [104, 524], "nice": false, "zero": false}, "axis": {"values": [0, 0.2, 0.4, 0.6, 0.8, 1], "labelExpr": "'' + datum.value", "title": "durata [/]", "offset": -74}}, "x2": {"datum": 1}}},
       {"mark": {"type": "line", "strokeWidth": 1},
        "encoding": {"x": {"field": "d", "type": "quantitative", "scale": {"domain": [0, 1], "range": [104, 524], "nice": false, "zero": false}, "axis": {"values": [0, 0.2, 0.4, 0.6, 0.8, 1], "labelExpr": "'' + datum.value", "title": "durata [/]", "offset": -74}},
                     "y": {"field": "q", "type": "quantitative", "scale": {"domain": [0, 1.4], "range": [274, 17], "nice": false, "zero": false}, "axis": {"values": [0, 0.2, 0.4, 0.6, 0.8, 1.0, 1.2, 1.4], "format": ".1f", "title": "portata [mc/s]", "offset": -104}},
                     "stroke": {"field": "s", "type": "nominal", "scale": {"domain": ["Calcolata", "Misurata"], "range": ["#ff0000", "#1a1a8c"]}, "legend": null}}},
       {"transform": [{"filter": "datum.s === 'Misurata'"}], "mark": {"type": "point", "filled": true, "opacity": 1, "size": 45, "strokeWidth": 0, "shape": "diamond", "color": "#000080"},
        "encoding": {"x": {"field": "d", "type": "quantitative", "scale": {"domain": [0, 1], "range": [104, 524], "nice": false, "zero": false}, "axis": {"values": [0, 0.2, 0.4, 0.6, 0.8, 1], "labelExpr": "'' + datum.value", "title": "durata [/]", "offset": -74}},
                     "y": {"field": "q", "type": "quantitative", "scale": {"domain": [0, 1.4], "range": [274, 17], "nice": false, "zero": false}, "axis": {"values": [0, 0.2, 0.4, 0.6, 0.8, 1.0, 1.2, 1.4], "format": ".1f", "title": "portata [mc/s]", "offset": -104}}}},
       {"transform": [{"filter": "datum.s === 'Calcolata'"}], "mark": {"type": "point", "filled": true, "opacity": 1, "size": 45, "strokeWidth": 0, "shape": "square", "color": "#ff0000"},
        "encoding": {"x": {"field": "d", "type": "quantitative", "scale": {"domain": [0, 1], "range": [104, 524], "nice": false, "zero": false}, "axis": {"values": [0, 0.2, 0.4, 0.6, 0.8, 1], "labelExpr": "'' + datum.value", "title": "durata [/]", "offset": -74}},
                     "y": {"field": "q", "type": "quantitative", "scale": {"domain": [0, 1.4], "range": [274, 17], "nice": false, "zero": false}, "axis": {"values": [0, 0.2, 0.4, 0.6, 0.8, 1.0, 1.2, 1.4], "format": ".1f", "title": "portata [mc/s]", "offset": -104}}}},
       {"transform": [{"filter": "false"}], "mark": {"type": "point", "filled": true, "opacity": 1},
        "encoding": {"color": {"field": "s", "type": "nominal", "scale": {"domain": ["Misurata", "Calcolata"], "range": ["#000080", "#ff0000"]}, "legend": {"title": null, "orient": "none", "legendX": 392, "legendY": 40}},
                     "shape": {"field": "s", "type": "nominal", "scale": {"domain": ["Misurata", "Calcolata"], "range": ["M-1.2,-0.05H1.2V0.05H-1.2Z M0,-0.36L0.33,0L0,0.36L-0.33,0Z", "M-1.2,-0.05H1.2V0.05H-1.2Z M-0.3,-0.3H0.3V0.3H-0.3Z"]}, "legend": {"title": null, "orient": "none", "legendX": 392, "legendY": 40}}}}
     ]}
  ], "spacing": -3, "resolve": {"scale": {"color": "independent", "shape": "independent", "stroke": "independent", "x": "independent", "y": "independent"}, "legend": {"color": "independent", "shape": "independent", "stroke": "independent"}}},
  {"hconcat": [
    {"width": 576, "height": 59, "data": {"values": [{"t": "Figura 143 - Ombrone a Poggio a Caiano"}]}, "mark": {"type": "text", "font": "Liberation Sans", "fontStyle": "italic", "fontSize": 24, "color": "#000", "dy": 1.5}, "encoding": {"x": {"datum": 0.5, "type": "quantitative", "scale": {"domain": [0, 1]}, "axis": null}, "y": {"datum": 0.5, "type": "quantitative", "scale": {"domain": [0, 1]}, "axis": null}, "text": {"field": "t", "type": "nominal"}}},
    {"width": 576, "height": 59, "data": {"values": [{"t": "Figura 144 - Pesa a Sambuca"}]}, "mark": {"type": "text", "font": "Liberation Sans", "fontStyle": "italic", "fontSize": 24, "color": "#000", "dy": 1.5}, "encoding": {"x": {"datum": 0.5, "type": "quantitative", "scale": {"domain": [0, 1]}, "axis": null}, "y": {"datum": 0.5, "type": "quantitative", "scale": {"domain": [0, 1]}, "axis": null}, "text": {"field": "t", "type": "nominal"}}}
  ], "spacing": -3, "resolve": {"scale": {"x": "independent", "y": "independent"}}}
]
}
